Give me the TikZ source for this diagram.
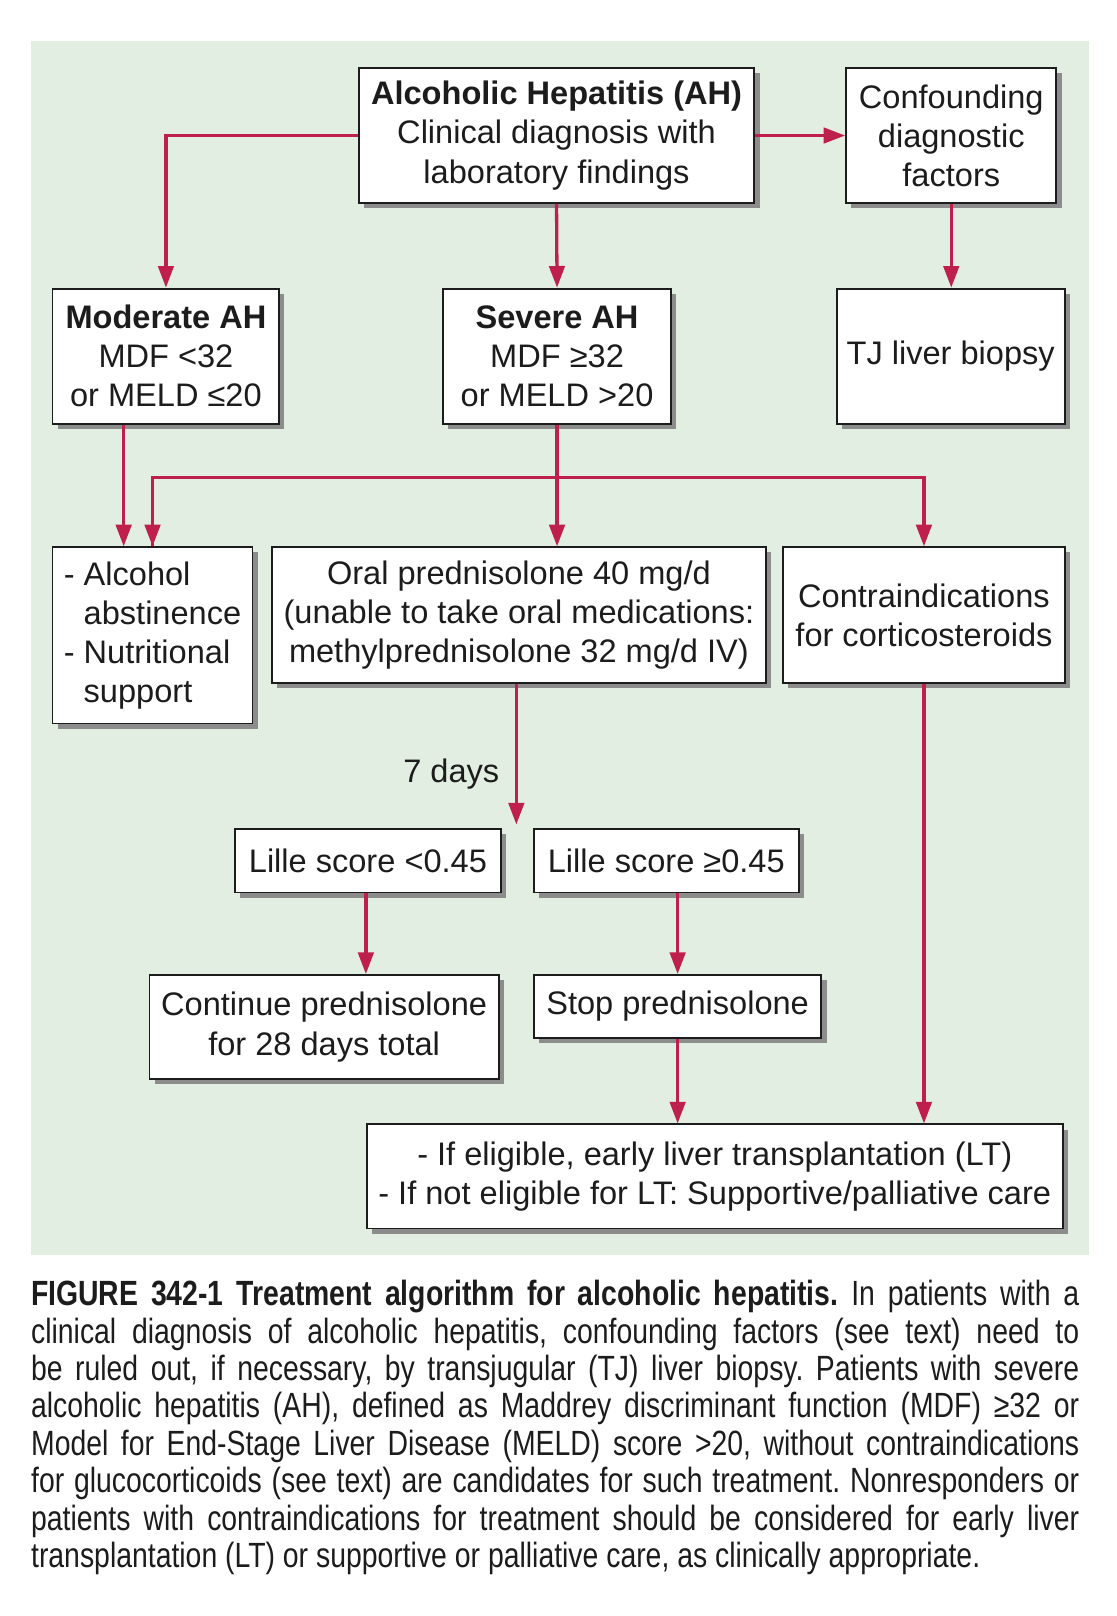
\documentclass[tikz,border=0pt]{standalone}
\usepackage{fontspec}
\setmainfont{Liberation Sans}
\newfontfamily\capfont[FakeStretch=0.81]{Liberation Sans}
\usetikzlibrary{arrows.meta,shadows}
\definecolor{bggreen}{HTML}{E3EEE2}
\definecolor{arrowred}{HTML}{BF1F4B}
\definecolor{shadowgray}{HTML}{8C8C8C}
\definecolor{inkblack}{HTML}{1C1C1C}

\begin{document}
\begin{tikzpicture}[x=1pt,y=1pt,
		box/.style={draw=inkblack, line width=1.8pt, fill=white, align=center, inner sep=0pt, text=inkblack,
			font=\fontsize{31.6}{38}\selectfont,
			drop shadow={shadow xshift=5pt, shadow yshift=-5pt, fill=shadowgray, opacity=1}},
		arrow/.style={draw=arrowred, line width=3.2pt, -{Triangle[length=21pt,width=15pt]}},
		link/.style={draw=arrowred, line width=3.2pt}]
			\useasboundingbox (0,0) rectangle (1083.8,-1568);
			\fill[bggreen] (30,-40) rectangle (1057,-1218);
			
			\node[box, minimum width=384pt, minimum height=131pt] (ah) at (540,-131.5){\textbf{Alcoholic Hepatitis (AH)}\\Clinical diagnosis with\\laboratory findings};
			\node[box, minimum width=204pt, minimum height=131pt] (conf) at (923,-131.5){Confounding\\diagnostic\\factors};
			\node[box, minimum width=220pt, minimum height=131pt] (mod) at (161,-345.5){\textbf{Moderate AH}\\MDF <32\\or MELD ≤20};
			\node[box, minimum width=221pt, minimum height=131pt] (sev) at (540.5,-345.5){\textbf{Severe AH}\\MDF ≥32\\or MELD >20};
			\node[box, minimum width=221pt, minimum height=131pt] (tj) at (922.5,-345.5){TJ liver biopsy};
			
			\node[box, minimum width=194pt, minimum height=171pt, align=left] (alc) at (148,-616.5){- Alcohol\\\phantom{- }abstinence\\- Nutritional\\\phantom{- }support};
			\node[box, minimum width=479pt, minimum height=132pt] (oral) at (503.5,-597){Oral prednisolone 40 mg/d\\(unable to take oral medications:\\methylprednisolone 32 mg/d IV)};
			\node[box, minimum width=273pt, minimum height=132pt] (contra) at (896.5,-597){Contraindications\\for corticosteroids};
			
			\node[box, minimum width=258pt, minimum height=62pt] (lilleLow) at (357,-835){Lille score <0.45};
			\node[box, minimum width=257pt, minimum height=62pt] (lilleHigh) at (646.5,-835){Lille score ≥0.45};
			\node[box, minimum width=339pt, minimum height=101pt] (cont) at (314.5,-996.5){Continue prednisolone\\for 28 days total};
			\node[box, minimum width=279pt, minimum height=61pt] (stop) at (657.5,-976.5){Stop prednisolone};
			\node[box, minimum width=675pt, minimum height=101pt] (final) at (693.5,-1141.5){- If eligible, early liver transplantation (LT)\\- If not eligible for LT: Supportive/palliative care};
			
			\coordinate (split) at (540,-463);
			\coordinate (oralEnd) at (501,-800);
			\node[anchor=base east, text=inkblack, font=\fontsize{31.6}{38}\selectfont] (days) at (488,-759){7 days};
			
			\draw[arrow] (ah.west) -| (mod.north);
			\draw[arrow] (ah.east) -- (ah.east -| conf.west);
			\draw[arrow] (ah.south) -- (sev.north);
			\draw[arrow] (conf.south) -- (conf.south |- tj.north);
			
			\draw[arrow] ([xshift=-41pt]mod.south) -- ([xshift=-41pt]mod.south |- alc.north);
			\draw[arrow] (sev.south) -- (sev.south |- oral.north);
			\draw[link] (split) -| (alc.north);
			\draw[arrow] (split) -| (contra.north);
			\draw[arrow] (split -| alc.north) -- (alc.north);
			
			\draw[arrow] (oral.south -| oralEnd) -- (oralEnd);
			\draw[arrow] ([xshift=-2pt]lilleLow.south) -- ([xshift=-2pt]lilleLow.south |- cont.north);
			\draw[arrow] (stop.north |- lilleHigh.south) -- (stop.north);
			\draw[arrow] (stop.south) -- (stop.south |- final.north);
			\draw[arrow] (contra.south) -- (contra.south |- final.north);
			
			\node[anchor=north west, inner sep=0pt, text width=1017pt, align=justify, text=inkblack,
				font=\capfont\fontsize{34}{36.3}\selectfont] (caption) at (30,-1242){\hyphenpenalty=10000\frenchspacing
				{\bfseries FIGURE 342-1 Treatment algorithm for alcoholic hepatitis.} In patients with a\linebreak
				clinical diagnosis of alcoholic hepatitis, confounding factors (see text) need to\linebreak
				be ruled out, if necessary, by transjugular (TJ) liver biopsy. Patients with severe\linebreak
				alcoholic hepatitis (AH), defined as Maddrey discriminant function (MDF) ≥32 or\linebreak
				Model for End-Stage Liver Disease (MELD) score >20, without contraindications\linebreak
				for glucocorticoids (see text) are candidates for such treatment. Nonresponders or\linebreak
				patients with contraindications for treatment should be considered for early liver\linebreak
				transplantation (LT) or supportive or palliative care, as clinically appropriate.};
		\end{tikzpicture}
\end{document}
